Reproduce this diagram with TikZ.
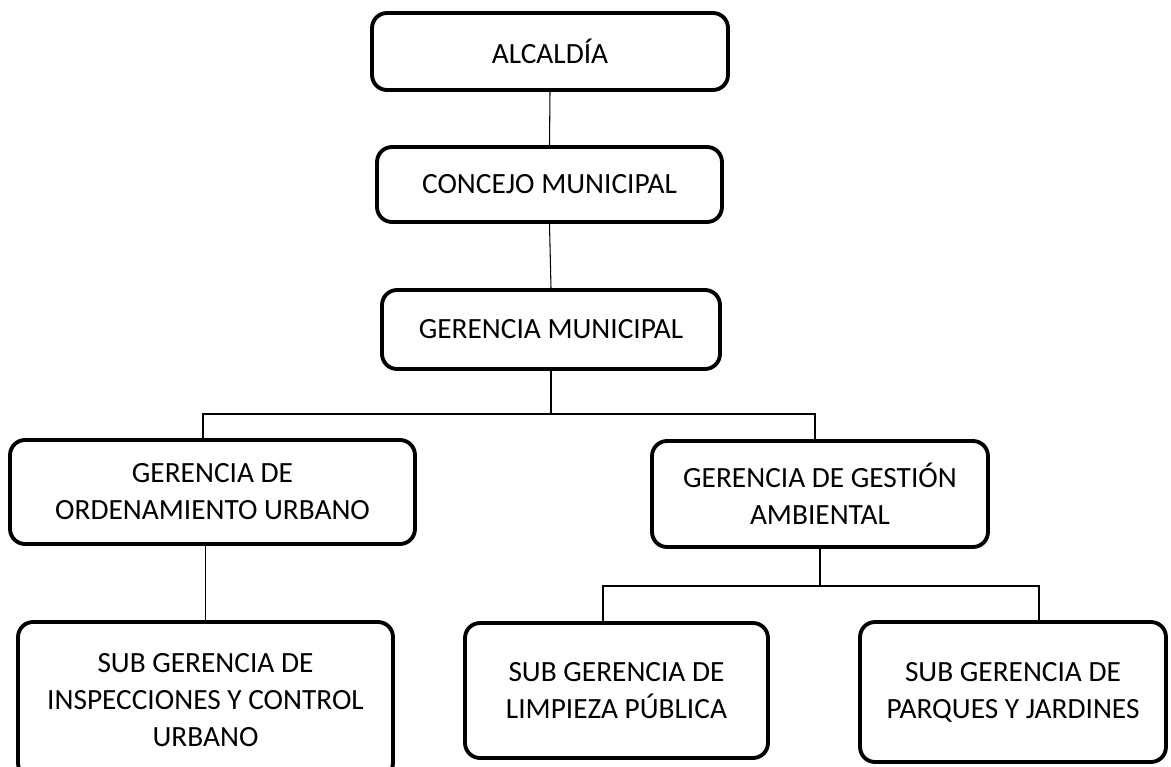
\documentclass[tikz,border=0pt]{standalone}
\usepackage{fontspec}
\setmainfont{Carlito}
\begin{document}
\begin{tikzpicture}[x=0.02cm,y=-0.02cm,
  caja/.style={draw,line width=2.2pt,rounded corners=0.3cm,align=center,inner sep=0pt,
    font=\fontsize{16.7}{21}\selectfont},
  linea/.style={line width=0.6pt}]
\useasboundingbox (0,0) rectangle (1171,767);
\clip (0,0) rectangle (1171,767);

\node[caja,minimum width=7.12cm,minimum height=1.54cm] (alc) at (550,51.5) {ALCALDÍA};
\node[caja,minimum width=6.9cm,minimum height=1.5cm] (cm) at (549.5,184.5) {CONCEJO MUNICIPAL};
\node[caja,minimum width=6.76cm,minimum height=1.58cm] (gm) at (551,329.5) {GERENCIA MUNICIPAL};

\node[caja,minimum width=8.1cm,minimum height=2.08cm] (gou) at (212.5,492) {GERENCIA DE\\ORDENAMIENTO URBANO};
\node[caja,minimum width=6.72cm,minimum height=2.12cm] (gga) at (820,494) {GERENCIA DE GESTIÓN\\AMBIENTAL};

\node[caja,minimum width=7.5cm,minimum height=3.12cm] (sgicu) at (205.5,700) {SUB GERENCIA DE\\INSPECCIONES Y CONTROL\\URBANO};
\node[caja,minimum width=6.06cm,minimum height=2.7cm] (sglp) at (616.5,690.5) {SUB GERENCIA DE\\LIMPIEZA PÚBLICA};
\node[caja,minimum width=6.12cm,minimum height=2.8cm] (sgpj) at (1013,692) {SUB GERENCIA DE\\PARQUES Y JARDINES};

\coordinate (bl) at (203,414);
\coordinate (br) at (815,414);
\coordinate (sl) at (603,586);
\coordinate (sr) at (1039,586);

\draw[linea] (alc.south) -- (cm.north);
\draw[linea] (cm.south) -- (gm.north);
\draw[linea] (gm.south) -- (gm.south |- bl);
\draw[linea] (gou.north -| bl) -- (bl) -- (br) -- (gga.north -| br);
\draw[linea] (gou.south -| sgicu.north) -- (sgicu.north);
\draw[linea] (gga.south) -- (gga.south |- sl);
\draw[linea] (sglp.north -| sl) -- (sl) -- (sr) -- (sgpj.north -| sr);
\end{tikzpicture}
\end{document}
